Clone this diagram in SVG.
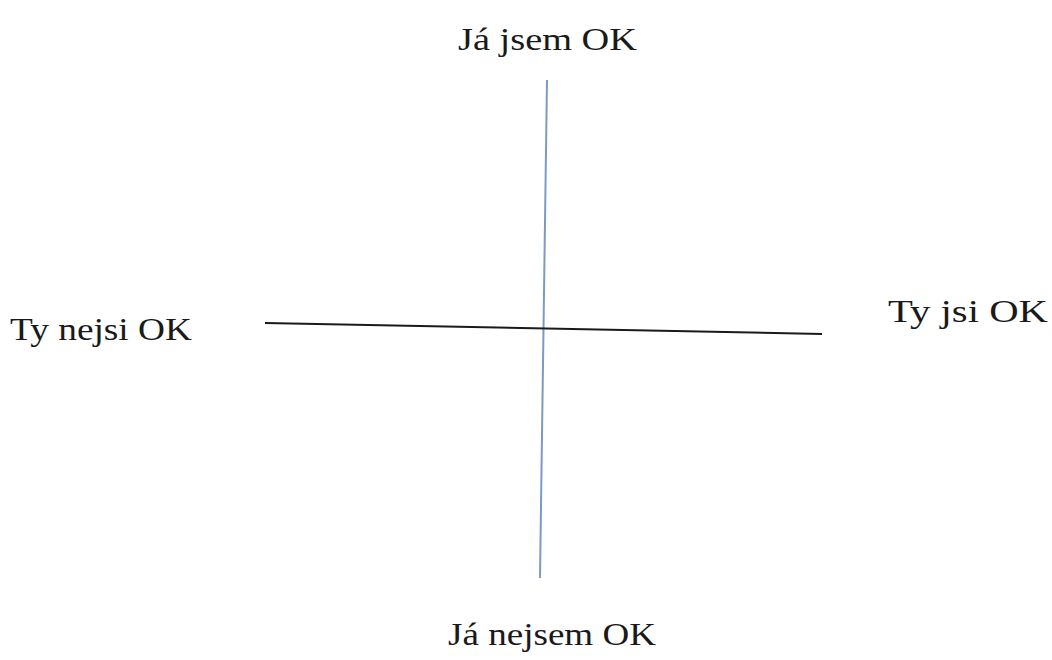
<svg xmlns="http://www.w3.org/2000/svg" width="1052" height="660" viewBox="0 0 1052 660">
<style>
.t{font-family:'Liberation Serif','Times New Roman',Tinos,serif;font-size:32px;fill:#1a1a1a}
.ax{stroke-width:2;fill:none}
</style>
<rect width="1052" height="660" fill="#ffffff"/>
<g id="connectors">
<line class="ax" x1="547" y1="80" x2="540" y2="578" stroke="#7a9cc4"/>
<line class="ax" x1="265" y1="323" x2="822" y2="334" stroke="#1a1a1a"/>
</g>
<g id="top"><text class="t" x="458" y="50" textLength="179" lengthAdjust="spacingAndGlyphs">Já jsem OK</text></g>
<g id="left"><text class="t" x="10" y="340" textLength="182" lengthAdjust="spacingAndGlyphs">Ty nejsi OK</text></g>
<g id="right"><text class="t" x="888" y="322" textLength="160" lengthAdjust="spacingAndGlyphs">Ty jsi OK</text></g>
<g id="bottom"><text class="t" x="448" y="645" textLength="208" lengthAdjust="spacingAndGlyphs">Já nejsem OK</text></g>
</svg>
